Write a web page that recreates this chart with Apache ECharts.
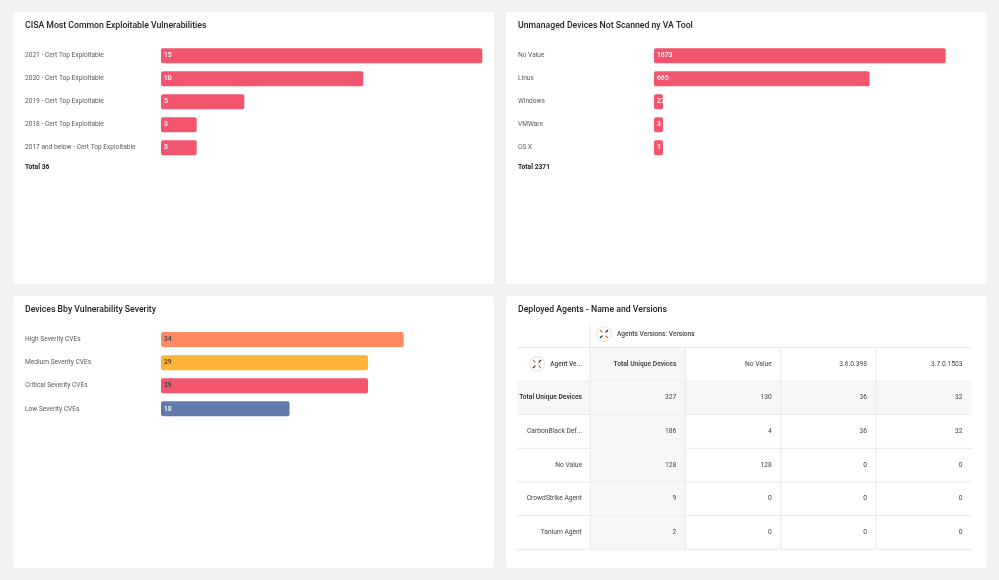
<!DOCTYPE html>
<html><head><meta charset="utf-8">
<script src="https://cdn.jsdelivr.net/npm/echarts@6/dist/echarts.min.js"></script>
<style>html,body{margin:0;padding:0;background:#f2f2f2}#c{width:999px;height:580px}</style>
</head><body><div id="c"></div>
<script>
// ---- data ----
const cisaCats = ['2021 - Cert Top Exploitable','2020 - Cert Top Exploitable','2019 - Cert Top Exploitable','2018 - Cert Top Exploitable','2017 and below - Cert Top Exploitable'];
const cisaVals = [15,10,5,3,3];
const cisaTotal = 'Total 36';
const unmCats = ['No Value','Linux','Windows','VMWare','OS X'];
const unmVals = [1673,665,27,3,1];
const unmTotal = 'Total 2371';
const sevCats = ['High Severity CVEs','Medium Severity CVEs','Critical Severity CVEs','Low Severity CVEs'];
const sevVals = [34,29,29,18];
const agentCols = ['Total Unique Devices','No Value','3.6.0.398','3.7.0.1503'];
const agentRowNames = ['Total Unique Devices','CarbonBlack Def...','No Value','CrowdStrike Agent','Tanium Agent'];
const agentVals = [[327,130,36,32],[186,4,36,32],[128,128,0,0],[9,0,0,0],[2,0,0,0]];
const titles = ['CISA Most Common Exploitable Vulnerabilities','Unmanaged Devices Not Scanned ny VA Tool','Devices Bby Vulnerability Severity','Deployed Agents - Name and Versions'];

// ---- styles ----
const FONT = 'Roboto';
const PINK = '#f2566f', ORANGE = '#ff8a62', YELLOW = '#fbb437', BLUE = '#6279ab';
const sevColors = [ORANGE, YELLOW, PINK, BLUE];
const sevLabelColors = ['#3a3a3a','#3a3a3a','#3a3a3a','#ffffff'];
const LINE = '#e9e9e9', GRAY = '#f7f7f7';

const chart = echarts.init(document.getElementById('c'), null, {renderer:'canvas'});

function catAxis(gridIndex, cats, margin){
  return {type:'category', gridIndex, data:cats, inverse:true,
    axisLine:{show:false}, axisTick:{show:false},
    axisLabel:{align:'left', margin, color:'#5a5a5a', fontSize:6.6, fontFamily:FONT, interval:0}};
}
function valAxis(gridIndex, min, max){
  return {type:'value', gridIndex, min, max, show:false, splitLine:{show:false}};
}
function barSeries(idx, vals, colors, labelColors){
  return {type:'bar', xAxisIndex:idx, yAxisIndex:idx, barWidth:15, barMinHeight:9, clip:true,
    data: vals.map((v,i)=>({value:v,
      itemStyle:{color:colors[i], borderRadius:2},
      label:{color:labelColors[i]}})),
    label:{show:true, position:'insideLeft', distance:3, fontSize:6.8, fontFamily:FONT, fontWeight:500, overflow:'none'},
    emphasis:{disabled:true}, silent:true};
}

// table cells
const tableCells = [];
const tableTexts = [];
agentCols.forEach((c,ci)=>{ tableCells.push([ci,0]); tableTexts.push(c); });
agentVals.forEach((row,ri)=>row.forEach((v,ci)=>{ tableCells.push([ci,ri+1]); tableTexts.push(String(v)); }));
const LABEL_W = 73, HEAD1_H = 25;

function renderCell(params, api){
  const c = api.value(0), r = api.value(1);
  const p = api.coord([c, r]);
  const s = api.size([1, 1]);
  const w = s[0], h = s[1];
  const x0 = p[0] - w/2, y0 = p[1] - h/2;
  const children = [];
  const gray = (c === 0 || r === 1);
  const bx = (c === 0 && r === 1) ? x0 - LABEL_W : x0;
  if (gray) children.push({type:'rect', shape:{x:bx, y:y0, width:x0 + w - bx, height:h}, style:{fill:GRAY}});
  const lx = (c === 0) ? x0 - LABEL_W : x0;
  children.push({type:'line', shape:{x1:lx, y1:y0+h, x2:x0+w, y2:y0+h}, style:{stroke:LINE, lineWidth:1}});
  if (r === 0) children.push({type:'line', shape:{x1:lx, y1:y0, x2:x0+w, y2:y0}, style:{stroke:LINE, lineWidth:1}});
  const ly0 = (c === 0 && r === 0) ? y0 - HEAD1_H : y0;
  children.push({type:'line', shape:{x1:x0, y1:ly0, x2:x0, y2:y0+h}, style:{stroke:LINE, lineWidth:1}});
  const bold = (r === 0 && c === 0);
  children.push({type:'text', style:{x:x0 + w - 9, y:p[1], text:tableTexts[params.dataIndex],
    align:'right', verticalAlign:'middle', fill:'#444', fontSize:6.7, fontFamily:FONT, fontWeight: bold ? 600 : 400}});
  return {type:'group', children};
}

function icon(cx, cy){
  const d1 = 1.6, d2 = 4;
  return {type:'group', children:[
    {type:'circle', shape:{cx, cy, r:7.5}, style:{fill:'#fff', stroke:'#e3e3e3', lineWidth:1}},
    {type:'line', shape:{x1:cx-d1, y1:cy-d1, x2:cx-d2, y2:cy-d2}, style:{stroke:'#f0703a', lineWidth:1.3}},
    {type:'line', shape:{x1:cx+d1, y1:cy+d1, x2:cx+d2, y2:cy+d2}, style:{stroke:'#f0703a', lineWidth:1.3}},
    {type:'line', shape:{x1:cx+d1, y1:cy-d1, x2:cx+d2, y2:cy-d2}, style:{stroke:'#333', lineWidth:1.3}},
    {type:'line', shape:{x1:cx-d1, y1:cy+d1, x2:cx-d2, y2:cy+d2}, style:{stroke:'#333', lineWidth:1.3}}
  ]};
}

const panels = [[13,12],[506,12],[13,296],[506,296]];
const graphics = [];
panels.forEach(([x,y],i)=>{
  graphics.push({type:'rect', z:-10, silent:true, shape:{x, y, width:481, height:272, r:2}, style:{fill:'#fff'}});
  graphics.push({type:'text', silent:true, style:{x:x+12, y:y+13.5, text:titles[i], fill:'#222', fontSize:8.7, fontFamily:FONT, fontWeight:500, verticalAlign:'middle'}});
});
graphics.push({type:'text', silent:true, style:{x:25, y:167, text:cisaTotal, fill:'#222', fontSize:6.7, fontFamily:FONT, fontWeight:700, verticalAlign:'middle'}});
graphics.push({type:'text', silent:true, style:{x:518, y:167, text:unmTotal, fill:'#222', fontSize:6.7, fontFamily:FONT, fontWeight:700, verticalAlign:'middle'}});
graphics.push(icon(604, 334));
graphics.push({type:'text', silent:true, style:{x:617, y:334.5, text:'Agents Versions: Versions', fill:'#444', fontSize:6.6, fontFamily:FONT, fontWeight:500, verticalAlign:'middle'}});
graphics.push(icon(537, 364));

const option = {
  backgroundColor:'#f2f2f2',
  animation:false,
  textStyle:{fontFamily:FONT},
  graphic: graphics,
  grid:[
    {left:161, right:516.7, top:44.3, height:115},
    {left:654, right:53.3, top:44.3, height:115},
    {left:161, right:516.7, top:328, height:92.4},
    {left:590, right:27.5, top:347.3, bottom:30.7}
  ],
  xAxis:[
    valAxis(0, 1.5, 15),
    valAxis(1, 0, 900),
    valAxis(2, 0, 45),
    {type:'category', gridIndex:3, data:agentCols, show:false}
  ],
  yAxis:[
    catAxis(0, cisaCats, 136),
    catAxis(1, unmCats, 136),
    catAxis(2, sevCats, 136),
    {type:'category', gridIndex:3, inverse:true, z:10,
      data:['Agent Ve...'].concat(agentRowNames),
      axisLine:{show:false}, axisTick:{show:false},
      axisLabel:{margin:8, fontSize:6.7, color:'#444', fontFamily:FONT, interval:0,
        formatter:(v, i)=> i === 1 ? '{b|'+v+'}' : (i === 0 ? '{h|'+v+'}' : v),
        rich:{b:{fontWeight:600, fontSize:6.7, color:'#333', fontFamily:FONT}, h:{fontWeight:500, fontSize:6.5, color:'#444', fontFamily:FONT}}}}
  ],
  series:[
    barSeries(0, cisaVals, cisaVals.map(()=>PINK), cisaVals.map(()=>'#fff')),
    barSeries(1, unmVals, unmVals.map(()=>PINK), unmVals.map(()=>'#fff')),
    barSeries(2, sevVals, sevColors, sevLabelColors),
    {type:'custom', xAxisIndex:3, yAxisIndex:3, data:tableCells, renderItem:renderCell, silent:true, clip:false, z:1}
  ]
};
chart.setOption(option);
</script>
</body></html>
